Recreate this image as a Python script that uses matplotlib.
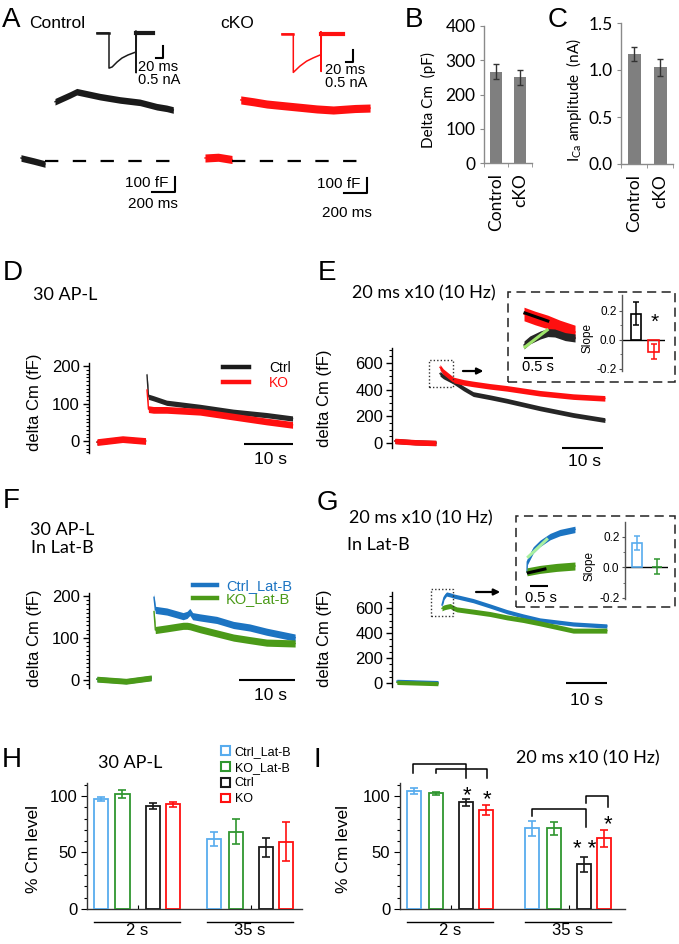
import numpy as np
import matplotlib.pyplot as plt
from matplotlib.lines import Line2D
from matplotlib.patches import Patch, Rectangle
from matplotlib.ticker import MultipleLocator, FixedLocator

plt.rcParams['font.family'] = ['Liberation Sans', 'DejaVu Sans']
plt.rcParams['axes.linewidth'] = 1.0

W, H = 679, 944
fig = plt.figure(figsize=(W / 100, H / 100), dpi=100)

BLACK = '#1a1a1a'
RED = '#ff1010'
BLUE = '#1c74c2'
GREEN = '#4b9a18'
LBLUE = '#58acee'
DGREEN = '#2f962f'
GRAY = '#7f7f7f'
CALIBRI = ['Lato', 'DejaVu Sans']

# ---------------- data ----------------
# A: capacitance (ms, fF) and Ca current (ms, nA)
a_ctrl_base_t = [-209, -100, 0]
a_ctrl_base = [20, 0, -20]
a_ctrl_cm_t = [87, 217, 276, 478, 652, 826, 972, 1059, 1116]
a_ctrl_cm = [395, 440, 462, 429, 407, 391, 362, 351, 340]
a_cko_base_t = [-235, -120, 0]
a_cko_base = [20, 25, 10]
a_cko_cm_t = [76, 185, 302, 446, 592, 737, 881, 1070, 1201]
a_cko_cm = [407, 395, 380, 369, 358, 347, 340, 350, 353]
a_ctrl_ica_t = [-34, 0, 0, 9, 23, 37, 54, 77, 77, 77.5, 78, 126]
a_ctrl_ica = [0, 0, -1.50, -1.45, -1.24, -1.07, -0.94, -0.81, 0.09, -1.70, 0, 0]
a_cko_ica_t = [-32, 0, 0, 19, 38, 57, 79, 79, 79.5, 80, 143]
a_cko_ica = [0, 0, -1.64, -1.37, -1.16, -1.02, -0.88, 0.10, -1.60, 0, 0]

# B, C
bc_groups = ['Control', 'cKO']
b_mean = [266, 250]
b_err = [22, 22]
c_mean = [1.17, 1.03]
c_err = [0.07, 0.09]

# D: 30 AP-L (s, fF)
d_base_t = [-10.2, -5.0, -0.3]
d_ctrl_base = [-3, 5, 0]
d_ko_base = [-3, 5, 0]
d_t = [0, 0.3, 1.3, 4.0, 10.8, 17.6, 24.4, 29.7]
d_ctrl = [176, 118, 114, 102, 91, 78, 69, 60]
d_ko = [136, 85, 83, 83, 78, 65, 52, 43]

# E: 20 ms x10 (s, fF)
e_base_t = [-11, -6, -1]
e_ctrl_base = [15, 5, 0]
e_ko_base = [15, 5, 0]
e_t = [0, 0.8, 3.3, 5.7, 8.1, 12.2, 16.3, 24.4, 32.5, 40.2]
e_ctrl = [520, 500, 460, 410, 367, 343, 317, 260, 210, 172]
e_ko = [568, 535, 473, 455, 443, 425, 410, 373, 348, 335]
# E inset (s, fF)
ei_ko_t = [0, 0.19, 0.41, 0.62, 0.88]
ei_ko = [230, 210, 190, 165, 140]
ei_ctrl_t = [0, 0.10, 0.28, 0.41, 0.53, 0.71, 0.88]
ei_ctrl = [75, 100, 125, 137, 135, 117, 110]
ei_fit_ko_t = [0.017, 0.41]
ei_fit_ko = [235, 195]
ei_fit_ctrl_t = [0.017, 0.40]
ei_fit_ctrl = [65, 150]
e_slope = [0.18, -0.08]
e_slope_err = [0.08, 0.05]

# F: 30 AP-L in Lat-B
f_base_t = [-10.2, -5.0, -0.5]
f_ctrl_base = [2, -3, 5]
f_ko_base = [2, -3, 5]
f_t = [0, 0.24, 2.3, 5.2, 5.9, 6.4, 6.9, 8.2, 11.2, 14.2, 17.1, 20.1, 25.2]
f_ctrl = [197, 167, 163, 152, 155, 162, 152, 149, 143, 131, 125, 115, 101]
f_ko = [163, 119, 123, 129, 129, 128, 126, 121, 111, 101, 95, 89, 87]

# G: 20 ms x10 in Lat-B
g_base_t = [-11, -6, -1]
g_ctrl_base = [15, 10, 5]
g_ko_base = [5, 0, -5]
g_t = [0, 0.5, 1.1, 2.0, 2.8, 3.6, 7.6, 11.7, 15.8, 19.8, 23.9, 32.0, 40.2]
g_ctrl = [624, 685, 712, 705, 696, 690, 659, 616, 571, 536, 504, 472, 456]
g_ko = [597, 605, 610, 616, 600, 589, 571, 552, 525, 504, 477, 419, 419]
gi_ctrl_t = [0, 0.008, 0.17, 0.355, 0.63, 0.90, 1.31]
gi_ctrl = [15, 66, 125, 158, 192, 212, 228]
gi_ko_t = [0, 0.355, 0.81, 1.31]
gi_ko = [16, 28, 38, 45]
gi_fit_ctrl_t = [0.036, 0.54]
gi_fit_ctrl = [91, 178]
gi_fit_ko_t = [0.036, 0.49]
gi_fit_ko = [11, 30]
g_slope = [0.157, 0.005]
g_slope_err = [0.045, 0.05]

# H, I: % Cm level
hi_groups = ['2 s', '35 s']
hi_series = ['Ctrl_Lat-B', 'KO_Lat-B', 'Ctrl', 'KO']
h_mean = [[97.4, 101.8, 91.2, 92.6], [62.0, 68.5, 54.7, 59.7]]
h_err = [[2.0, 3.5, 2.5, 2.5], [6.5, 11.0, 8.5, 17.0]]
i_mean = [[104.4, 102.4, 94.4, 87.9], [71.4, 71.4, 39.5, 62.5]]
i_err = [[2.5, 1.5, 3.0, 4.5], [6.5, 5.5, 6.5, 7.5]]


# ---------------- helpers ----------------
def px_axes(x0, y0, x1, y1, px0=None, tpp=None, py0=None, vpp=None):
    ax = fig.add_axes([x0 / W, 1 - y1 / H, (x1 - x0) / W, (y1 - y0) / H])
    ax.patch.set_alpha(0)
    if px0 is not None:
        ax.set_xlim((x0 - px0) * tpp, (x1 - px0) * tpp)
        ax.set_ylim((py0 - y1) * vpp, (py0 - y0) * vpp)
    return ax


def ftext(x, y, s, **kw):
    kw.setdefault('va', 'baseline')
    return fig.text(x / W, 1 - y / H, s, **kw)


def vlabel(x, y, s, **kw):
    return fig.text(x / W, 1 - y / H, s, rotation=90, ha='center', va='center', **kw)


def trace(ax, t, v, noise, color, z=2):
    t = np.asarray(t, float)
    v = np.asarray(v, float)
    ax.fill_between(t, v - noise, v + noise, color=color, lw=0, zorder=z)
    ax.plot(t, v, color=color, lw=1.0, zorder=z)


def trace_axis(ax, major, minor, fs=12):
    for s in ['top', 'right', 'bottom']:
        ax.spines[s].set_visible(False)
    ax.spines['left'].set_color('black')
    ax.set_xticks([])
    ax.yaxis.set_major_locator(MultipleLocator(major))
    ax.yaxis.set_minor_locator(MultipleLocator(minor))
    ax.tick_params(axis='y', which='major', length=4, width=1, labelsize=fs, pad=2.5)
    ax.tick_params(axis='y', which='minor', length=2.2, width=0.8)


def scalebar(ax, t_end, v, length):
    ax.plot([t_end - length, t_end], [v, v], color='black', lw=1.5, clip_on=False,
            solid_capstyle='butt')


# ---------------- panel letters ----------------
for letter, x, y in [('A', 2, 27), ('B', 405, 27), ('C', 548, 27), ('D', 3, 280),
                     ('E', 318, 280), ('F', 3, 508), ('G', 317, 510), ('H', 2, 767),
                     ('I', 313, 767)]:
    ftext(x, y, letter, fontsize=20)

# ---------------- A ----------------
ftext(29, 28, 'Control', fontsize=12.5)
ftext(220, 28, 'cKO', fontsize=12.5)

for (x0, x1, px0, bt, bv, ct, cv, col, noise, bar_px) in [
        (10, 190, 45, a_ctrl_base_t, a_ctrl_base, a_ctrl_cm_t, a_ctrl_cm, BLACK, 22, (175, 192)),
        (195, 380, 232, a_cko_base_t, a_cko_base, a_cko_cm_t, a_cko_cm, RED, 27, (367, 193))]:
    ax = px_axes(x0, 80, x1, 225, px0=px0, tpp=8.7, py0=161, vpp=6.667)
    ax.axis('off')
    trace(ax, bt, bv, noise, col)
    trace(ax, ct, cv, noise, col)
    ax.hlines(0, 0, ct[-1], colors='black', lw=1.6, linestyles=(0, (6, 6.5)))
    tb = (bar_px[0] - px0) * 8.7
    vb = (161 - bar_px[1]) * 6.667
    ax.plot([tb - 200, tb, tb], [vb, vb, vb + 100], color='black', lw=1.5, clip_on=False)

ftext(168, 187, '100 fF', fontsize=11, ha='right')
ftext(128, 208, '200 ms', fontsize=11)
ftext(360, 188, '100 fF', fontsize=11, ha='right')
ftext(372, 217, '200 ms', fontsize=11, ha='right')

for (x0, x1, px0, py0, it, iv, col, bar_px) in [
        (90, 190, 109, 33, a_ctrl_ica_t, a_ctrl_ica, BLACK, (163, 58)),
        (275, 375, 293.3, 34, a_cko_ica_t, a_cko_ica, RED, (353, 62))]:
    ax = px_axes(x0, 22, x1, 90, px0=px0, tpp=2.857, py0=py0, vpp=0.0427)
    ax.axis('off')
    ax.plot(it[:-1], iv[:-1], color=col, lw=1.1)
    ax.plot(it[-2:], iv[-2:], color=col, lw=3.0)
    ax.plot(it[:2], iv[:2], color=col, lw=1.8)
    tb = (bar_px[0] - px0) * 2.857
    vb = -(bar_px[1] - py0) * 0.0427
    ax.plot([tb - 20, tb, tb], [vb, vb, vb + 0.5], color='black', lw=1.5, clip_on=False)

ftext(138, 84, '20 ms\n0.5 nA', fontsize=10.5, linespacing=0.95)
ftext(325, 87, '20 ms\n0.5 nA', fontsize=10.5, linespacing=0.95)

# ---------------- B, C ----------------
for (x0, y0, x1, y1, mean, err, top, step, fmt, lab, lab_x) in [
        (484, 26, 532, 163, b_mean, b_err, 400, 100, '{:.0f}', 'Delta Cm  (pF)', 428),
        (621, 23, 673, 164, c_mean, c_err, 1.5, 0.5, '{:.1f}',
         r'I$_{\mathregular{Ca}}$ amplitude  (nA)', 574)]:
    ax = px_axes(x0, y0, x1, y1)
    x = np.arange(len(bc_groups))
    ax.bar(x, mean, width=0.5, color=GRAY, zorder=2)
    ax.errorbar(x, mean, yerr=err, fmt='none', ecolor='#333333', elinewidth=1,
                capsize=2.5, capthick=1, zorder=3)
    ax.set_xlim(-0.5, 1.5)
    ax.set_ylim(0, top)
    for s in ['top', 'right']:
        ax.spines[s].set_visible(False)
    for s in ['left', 'bottom']:
        ax.spines[s].set_color('#8a8a8a')
    yt = np.arange(0, top + step / 2, step)
    ax.set_yticks(yt, [fmt.format(v) for v in yt], fontfamily=CALIBRI, fontsize=12.5)
    ax.tick_params(axis='y', length=3, color='#8a8a8a', pad=3)
    ax.set_xticks(x, bc_groups, rotation=90, fontfamily=CALIBRI, fontsize=12.5)
    ax.tick_params(axis='x', length=0, pad=7)
    ax.xaxis.set_minor_locator(FixedLocator([-0.5, 0.5, 1.5]))
    ax.tick_params(axis='x', which='minor', length=3, color='#8a8a8a')
    vlabel(lab_x, 100, lab, fontfamily=CALIBRI, fontsize=11)

# ---------------- D ----------------
ftext(33, 300, '30 AP-L', fontsize=13, fontfamily=CALIBRI)
ax = px_axes(89, 363, 300, 453, px0=147, tpp=1 / 4.9, py0=441, vpp=1 / 0.375)
trace_axis(ax, 100, 10)
trace(ax, d_base_t, d_ctrl_base, 7, BLACK)
trace(ax, d_t, d_ctrl, 7, '#262626')
trace(ax, d_base_t, d_ko_base, 9, RED, z=3)
trace(ax, d_t, d_ko, 9, RED, z=3)
scalebar(ax, 29.8, -8, 10)
ftext(271, 464, '10 s', fontsize=12.5, ha='center')
vlabel(35, 402, 'delta Cm (fF)', fontsize=12)
leg = ax.legend([Line2D([], [], color=BLACK, lw=3.2), Line2D([], [], color=RED, lw=3.2)],
                ['Ctrl', 'KO'], loc='upper left', bbox_to_anchor=(223 / W, 1 - 361 / H),
                bbox_transform=fig.transFigure, frameon=False, fontsize=10,
                handlelength=1.9, handletextpad=1.4, labelspacing=0.05,
                borderpad=0, borderaxespad=0)
leg.get_texts()[1].set_color(RED)

# ---------------- E ----------------
ftext(352, 298, '20 ms x10 (10 Hz)', fontsize=13, fontfamily=CALIBRI)
ax = px_axes(392, 348, 612, 448, px0=440, tpp=1 / 4.1, py0=443, vpp=1 / 0.1333)
trace_axis(ax, 200, 50)
trace(ax, e_base_t, e_ctrl_base, 19, BLACK)
trace(ax, e_t, e_ctrl, 18, '#262626')
trace(ax, e_base_t, e_ko_base, 21, RED, z=3)
trace(ax, e_t, e_ko, 21, RED, z=3)
scalebar(ax, 39.8, -37.5, 10)
ax.add_patch(Rectangle((-2.7, 420), 5.9, 203, fill=False, ls=(0, (1, 1.5)), lw=1,
                       ec='#333333', clip_on=False, zorder=4))
ax.annotate('', xy=(10.6, 540), xytext=(5.6, 540), annotation_clip=False,
            arrowprops=dict(arrowstyle='-|>', color='black', lw=1.6, mutation_scale=9,
                            shrinkA=0, shrinkB=0))
ftext(584, 466, '10 s', fontsize=12.5, ha='center')
vlabel(324, 398, 'delta Cm (fF)', fontsize=12)

# ---------------- F ----------------
ftext(30, 535, '30 AP-L', fontsize=13, fontfamily=CALIBRI)
ftext(31, 553, 'In Lat-B', fontsize=13, fontfamily=CALIBRI)
ax = px_axes(89, 593, 300, 688, px0=154, tpp=1 / 5.6, py0=680, vpp=1 / 0.42)
trace_axis(ax, 100, 10)
trace(ax, f_base_t, f_ctrl_base, 6, BLUE)
trace(ax, f_t, f_ctrl, 8.5, BLUE)
trace(ax, f_base_t, f_ko_base, 7, GREEN, z=3)
trace(ax, f_t, f_ko, 8.5, GREEN, z=3)
scalebar(ax, 25.2, 0, 10)
ftext(271, 700, '10 s', fontsize=12.5, ha='center')
vlabel(35, 638, 'delta Cm (fF)', fontsize=12)
leg = ax.legend([Line2D([], [], color=BLUE, lw=3.2), Line2D([], [], color=GREEN, lw=3.2)],
                ['Ctrl_Lat-B', 'KO_Lat-B'], loc='upper left',
                bbox_to_anchor=(193 / W, 1 - 579 / H), bbox_transform=fig.transFigure,
                frameon=False, fontsize=10.5, handlelength=1.65, handletextpad=0.6,
                labelspacing=-0.05, borderpad=0, borderaxespad=0)
leg.get_texts()[0].set_color(BLUE)
leg.get_texts()[1].set_color(GREEN)

# ---------------- G ----------------
ftext(349, 523, '20 ms x10 (10 Hz)', fontsize=13, fontfamily=CALIBRI)
ftext(347, 550, 'In Lat-B', fontsize=13, fontfamily=CALIBRI)
ax = px_axes(392, 592, 612, 687, px0=442, tpp=1 / 4.1, py0=683, vpp=1 / 0.125)
trace_axis(ax, 200, 50)
trace(ax, g_base_t, g_ctrl_base, 15, BLUE)
trace(ax, g_t, g_ctrl, 17, BLUE)
trace(ax, g_base_t, g_ko_base, 17, GREEN, z=3)
trace(ax, g_t, g_ko, 20, GREEN, z=3)
scalebar(ax, 40.2, 0, 10)
ax.add_patch(Rectangle((-2.7, 536), 5.4, 216, fill=False, ls=(0, (1, 1.5)), lw=1,
                       ec='#333333', clip_on=False, zorder=4))
ax.annotate('', xy=(14.2, 728), xytext=(8.3, 728), annotation_clip=False,
            arrowprops=dict(arrowstyle='-|>', color='black', lw=1.6, mutation_scale=9,
                            shrinkA=0, shrinkB=0))
ftext(587, 705, '10 s', fontsize=12.5, ha='center')
vlabel(324, 638, 'delta Cm (fF)', fontsize=12)

# ---------------- insets of E and G ----------------
for (bx0, by0, bx1, by1) in [(508, 292, 675, 382), (516, 516, 675, 607)]:
    fig.add_artist(Rectangle((bx0 / W, 1 - by1 / H), (bx1 - bx0) / W, (by1 - by0) / H,
                             fill=False, lw=1.1, ls=(0, (6, 3.5)), ec='#222222',
                             transform=fig.transFigure))

ax = px_axes(518, 300, 582, 375, px0=524, tpp=0.5 / 29, py0=360, vpp=5)
ax.axis('off')
trace(ax, ei_ko_t, ei_ko, 34, RED)
trace(ax, ei_ctrl_t, ei_ctrl, 20, '#262626', z=3)
ax.plot(ei_fit_ko_t, ei_fit_ko, color='black', lw=2.2, zorder=5)
ax.plot(ei_fit_ctrl_t, ei_fit_ctrl, color='#9ee46a', lw=2.2, zorder=5)
scalebar(ax, 0.5, 10, 0.5)
ftext(538, 371, '0.5 s', fontsize=10.5, ha='center')

ax = px_axes(520, 522, 580, 595, px0=527, tpp=0.5 / 18.3, py0=575, vpp=5)
ax.axis('off')
trace(ax, gi_ctrl_t, gi_ctrl, 16, BLUE)
trace(ax, gi_ko_t, gi_ko, 20, GREEN, z=3)
ax.plot(gi_fit_ctrl_t, gi_fit_ctrl, color='#aaf0a0', lw=2.2, zorder=5)
ax.plot(gi_fit_ko_t, gi_fit_ko, color='black', lw=2.2, zorder=5)
scalebar(ax, 0.582, -53, 0.5)
ftext(541, 602, '0.5 s', fontsize=10.5, ha='center')

for (x0, y0, x1, y1, xlo, xhi, ylo, yhi, vals, errs, cols, wid, slope_x, slope_y) in [
        (622, 295, 665, 371, -0.8, 1.657, -0.214, 0.31, e_slope, e_slope_err,
         ['black', RED], 0.6, 588, 338),
        (625, 522, 668, 598.5, -0.61, 1.57, -0.204, 0.296, g_slope, g_slope_err,
         [LBLUE, DGREEN], 0.5, 590, 566)]:
    ax = px_axes(x0, y0, x1, y1)
    ax.set_xlim(xlo, xhi)
    ax.set_ylim(ylo, yhi)
    x = np.arange(len(vals))
    ax.bar(x, vals, width=wid, fill=False, edgecolor=cols, lw=1.2, zorder=3)
    for xi, v, e, c in zip(x, vals, errs, cols):
        ax.errorbar(xi, v, yerr=e, fmt='none', ecolor=c, elinewidth=1.1, capsize=2.5,
                    capthick=1.1, zorder=4)
    ax.axhline(0, color='black', lw=1, zorder=2)
    for s in ['top', 'right', 'bottom']:
        ax.spines[s].set_visible(False)
    ax.spines['left'].set_color('#555555')
    ax.set_xticks([])
    ax.set_yticks([-0.2, 0.0, 0.2], ['-0.2', '0.0', '0.2'])
    ax.yaxis.set_minor_locator(FixedLocator([-0.1, 0.1]))
    ax.tick_params(axis='y', which='major', length=2.5, labelsize=8.5, pad=1.5,
                   color='#555555')
    ax.tick_params(axis='y', which='minor', length=1.5, color='#555555')
    vlabel(slope_x, slope_y, 'Slope', fontsize=8.5)
    if vals is e_slope:
        ax.text(1.05, 0.085, '*', ha='center', va='baseline', fontsize=15)

# ---------------- H, I ----------------
bar_cols = [LBLUE, DGREEN, BLACK, RED]
series_off = [0, 21.5, 52, 72]


def cm_bars(x0, x1, mean, err, starts, xmax):
    ax = px_axes(x0, 783, x1, 909)
    ax.set_xlim(0, xmax)
    ax.set_ylim(0, 111.5)
    mids = []
    for gi, st in enumerate(starts):
        xs = [st + o for o in series_off]
        for xi, m, e, c in zip(xs, mean[gi], err[gi], bar_cols):
            ax.bar(xi, m, width=14, fill=False, edgecolor=c, lw=1.3, zorder=3)
            ax.errorbar(xi, m, yerr=e, fmt='none', ecolor=c, elinewidth=1.2,
                        capsize=3, capthick=1.2, zorder=4)
        mids.append((xs[1] + xs[2]) / 2)
        ax.plot([xs[0] - 7, xs[-1] + 7], [-0.103, -0.103], color='black', lw=1,
                transform=ax.get_xaxis_transform(), clip_on=False)
        ax.text((xs[0] + xs[-1]) / 2, -0.21, hi_groups[gi], ha='center', va='baseline',
                fontsize=12, transform=ax.get_xaxis_transform())
    for s in ['top', 'right']:
        ax.spines[s].set_visible(False)
    for s in ['left', 'bottom']:
        ax.spines[s].set_color('#333333')
    ax.set_xticks(mids, ['', ''])
    ax.tick_params(axis='x', direction='in', length=3)
    ax.yaxis.set_major_locator(FixedLocator([0, 50, 100]))
    ax.yaxis.set_minor_locator(MultipleLocator(10))
    ax.tick_params(axis='y', which='major', length=4, labelsize=12, pad=3)
    ax.tick_params(axis='y', which='minor', length=2.2, width=0.8)
    return ax


ax_h = cm_bars(87, 302, h_mean, h_err, [14, 127], 215)
ftext(130, 768, '30 AP-L', fontsize=13, fontfamily=CALIBRI, ha='center')
vlabel(33, 849, '% Cm level', fontsize=12.5)
fig.legend([Patch(fill=False, edgecolor=c, lw=1.5) for c in bar_cols], hi_series,
           loc='upper left', bbox_to_anchor=(221 / W, 1 - 746 / H),
           bbox_transform=fig.transFigure, frameon=False, fontsize=9,
           handlelength=0.7, handleheight=0.7, handletextpad=0.4, labelspacing=0.3,
           borderpad=0, borderaxespad=0)

ax_i = cm_bars(400, 625, i_mean, i_err, [14, 132], 225)
ftext(588, 763, '20 ms x10 (10 Hz)', fontsize=13, fontfamily=CALIBRI, ha='center')
vlabel(343, 849, '% Cm level', fontsize=12.5)

# significance brackets of I (x in bar units, y in %)
i_brackets = [(13.3, 66.0, 128.3, 120.0, 115.6), (36.0, 86.7, 123.6, 120.0, 115.6),
              (131.7, 186.0, 88.2, 82.3, 72.8), (186.0, 208.3, 100.0, 93.5, 90.5)]
for xa, xb, top, la, lb in i_brackets:
    ax_i.plot([xa, xa, xb, xb], [la, top, top, lb], color='black', lw=1.1, clip_on=False)
i_stars = [(66.7, 95.0, '*'), (86.7, 92.0, '*'), (185.0, 48.0, '* *'), (208.0, 69.5, '*')]
for xs, ys, s in i_stars:
    ax_i.text(xs, ys, s, ha='center', va='baseline', fontsize=16, clip_on=False)

fig.savefig('out.png', dpi=100)
